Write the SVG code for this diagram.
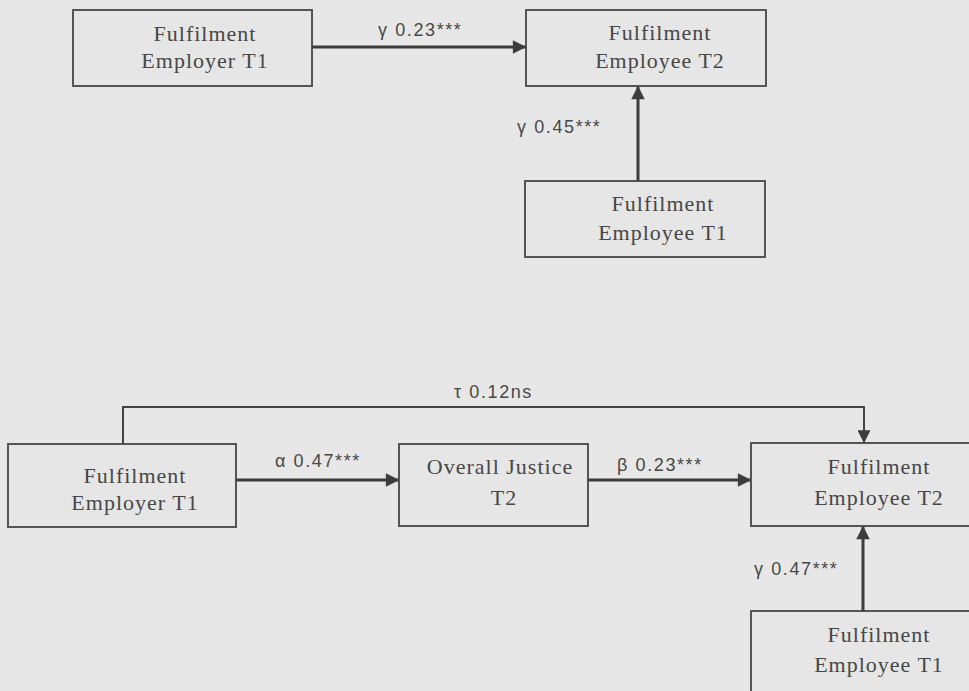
<svg xmlns="http://www.w3.org/2000/svg" width="969" height="691" viewBox="0 0 969 691">
  <style>
    .box { fill: #e6e6e6; stroke: #555555; stroke-width: 2; }
    .name { font-family: "Liberation Serif", "Times New Roman", serif; font-size: 22px; letter-spacing: 1px; fill: #474747; text-anchor: middle; }
    .coef { font-family: "Liberation Sans", Arial, sans-serif; font-size: 18px; letter-spacing: 1.6px; fill: #474747; }
    .edge { fill: none; stroke: #3d3d3d; stroke-width: 3; }
    .thin { fill: none; stroke: #444444; stroke-width: 2; }
  </style>
  <defs>
    <marker id="head" viewBox="0 0 10 10" refX="9" refY="5" markerWidth="5" markerHeight="4.5" orient="auto" markerUnits="strokeWidth">
      <path d="M0,0 L10,5 L0,10 z" fill="#3d3d3d"/>
    </marker>
    <marker id="headThin" viewBox="0 0 10 10" refX="9" refY="5" markerWidth="7" markerHeight="6.5" orient="auto" markerUnits="strokeWidth">
      <path d="M0,0 L10,5 L0,10 z" fill="#3d3d3d"/>
    </marker>
  </defs>

  <rect width="969" height="691" fill="#e7e7e7"/>

  <!-- upper model -->
  <g id="employer-t1-a">
    <rect class="box" x="73" y="10" width="239" height="76"/>
    <text class="name" x="205" y="41">Fulfilment</text>
    <text class="name" x="205" y="68">Employer T1</text>
  </g>
  <g id="employee-t2-a">
    <rect class="box" x="526" y="10" width="240" height="76"/>
    <text class="name" x="660" y="40">Fulfilment</text>
    <text class="name" x="660" y="68">Employee T2</text>
  </g>
  <g id="employee-t1-a">
    <rect class="box" x="525" y="181" width="240" height="76"/>
    <text class="name" x="663" y="211">Fulfilment</text>
    <text class="name" x="663" y="240">Employee T1</text>
  </g>

  <!-- lower model -->
  <g id="employer-t1-b">
    <rect class="box" x="8" y="444" width="228" height="83"/>
    <text class="name" x="135" y="483">Fulfilment</text>
    <text class="name" x="135" y="510">Employer T1</text>
  </g>
  <g id="justice-t2">
    <rect class="box" x="399" y="444" width="189" height="82"/>
    <text class="name" x="500" y="474">Overall Justice</text>
    <text class="name" x="504" y="505">T2</text>
  </g>
  <g id="employee-t2-b">
    <rect class="box" x="751" y="443" width="240" height="83"/>
    <text class="name" x="879" y="474">Fulfilment</text>
    <text class="name" x="879" y="505">Employee T2</text>
  </g>
  <g id="employee-t1-b">
    <rect class="box" x="751" y="611" width="240" height="100"/>
    <text class="name" x="879" y="642">Fulfilment</text>
    <text class="name" x="879" y="672">Employee T1</text>
  </g>

  <g id="connectors">
    <line class="edge" x1="312" y1="47" x2="525" y2="47" marker-end="url(#head)"/>
    <line class="edge" x1="638" y1="181" x2="638" y2="87" marker-end="url(#head)"/>
    <line class="edge" x1="236" y1="480" x2="398" y2="480" marker-end="url(#head)"/>
    <line class="edge" x1="588" y1="480" x2="750" y2="480" marker-end="url(#head)"/>
    <line class="edge" x1="863" y1="611" x2="863" y2="527" marker-end="url(#head)"/>
    <polyline class="thin" points="123,444 123,407 864,407 864,442" marker-end="url(#headThin)"/>
  </g>

  <g id="coefficients">
    <text class="coef" x="378" y="36">γ 0.23***</text>
    <text class="coef" x="517" y="133">γ 0.45***</text>
    <text class="coef" x="454" y="398">τ 0.12ns</text>
    <text class="coef" x="275" y="467">α 0.47***</text>
    <text class="coef" x="617" y="471">β 0.23***</text>
    <text class="coef" x="754" y="575">γ 0.47***</text>
  </g>
</svg>
